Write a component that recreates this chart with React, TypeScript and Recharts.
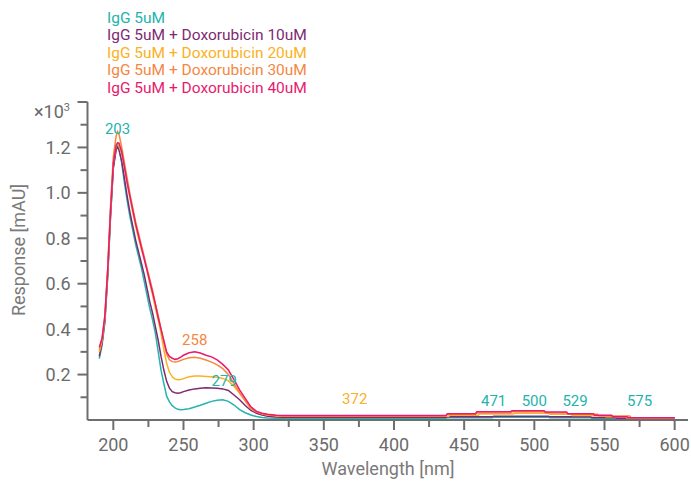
import { Label, Legend, Line, LineChart, ReferenceDot, XAxis, YAxis } from "recharts";

// UV part of the spectrum (shared wavelength grid, nm)
const UV_NM = [
  190, 192, 194, 196, 198, 200, 202, 203, 204, 206, 208, 210, 212, 214, 216, 218, 220, 222, 224, 226, 228, 230,
  232, 234, 236, 238, 240, 242, 244, 246, 248, 250, 254, 258, 262, 266, 270, 274, 278, 282, 286, 290, 294, 298,
  302, 306, 310, 316, 320,
];

// response in mAU x10^3
const IGG_UV = [
  0.27, 0.33, 0.43, 0.63, 0.89, 1.11, 1.19, 1.21, 1.2, 1.13, 1.04, 0.96, 0.89, 0.83, 0.77, 0.72, 0.67, 0.61, 0.55,
  0.49, 0.44, 0.38, 0.3, 0.22, 0.16, 0.105, 0.08, 0.063, 0.053, 0.047, 0.045, 0.046, 0.05, 0.057, 0.065, 0.074,
  0.082, 0.087, 0.089, 0.082, 0.066, 0.046, 0.032, 0.022, 0.015, 0.011, 0.009, 0.008, 0.008,
];
const DOX10_UV = [
  0.28, 0.34, 0.44, 0.64, 0.9, 1.11, 1.19, 1.2, 1.19, 1.14, 1.06, 0.98, 0.91, 0.85, 0.79, 0.74, 0.69, 0.64, 0.58,
  0.52, 0.47, 0.41, 0.35, 0.28, 0.22, 0.17, 0.14, 0.125, 0.12, 0.118, 0.12, 0.125, 0.132, 0.137, 0.14, 0.142,
  0.141, 0.14, 0.137, 0.13, 0.11, 0.089, 0.064, 0.042, 0.03, 0.022, 0.017, 0.013, 0.012,
];
const DOX20_UV = [
  0.3, 0.35, 0.45, 0.66, 0.92, 1.13, 1.21, 1.22, 1.21, 1.17, 1.11, 1.04, 0.97, 0.91, 0.85, 0.8, 0.75, 0.71, 0.66,
  0.6, 0.55, 0.49, 0.44, 0.38, 0.31, 0.25, 0.21, 0.19, 0.18, 0.177, 0.178, 0.182, 0.19, 0.194, 0.194, 0.192, 0.19,
  0.188, 0.183, 0.172, 0.148, 0.118, 0.086, 0.057, 0.038, 0.028, 0.022, 0.019, 0.017,
];
const DOX30_UV = [
  0.31, 0.36, 0.46, 0.67, 0.94, 1.16, 1.25, 1.27, 1.26, 1.2, 1.13, 1.06, 0.99, 0.93, 0.87, 0.82, 0.77, 0.72, 0.67,
  0.62, 0.57, 0.51, 0.46, 0.4, 0.34, 0.29, 0.265, 0.257, 0.255, 0.257, 0.262, 0.267, 0.274, 0.276, 0.272, 0.264,
  0.255, 0.243, 0.226, 0.2, 0.16, 0.12, 0.083, 0.05, 0.035, 0.026, 0.022, 0.02, 0.019,
];
const DOX40_UV = [
  0.32, 0.36, 0.46, 0.66, 0.92, 1.13, 1.21, 1.22, 1.22, 1.18, 1.11, 1.04, 0.98, 0.92, 0.86, 0.81, 0.76, 0.71, 0.66,
  0.61, 0.56, 0.51, 0.45, 0.4, 0.35, 0.3, 0.28, 0.272, 0.267, 0.27, 0.277, 0.285, 0.296, 0.3, 0.295, 0.285, 0.278,
  0.265, 0.245, 0.22, 0.178, 0.133, 0.095, 0.058, 0.038, 0.03, 0.025, 0.021, 0.02,
];

// visible part, stepped baseline
const IGG_VIS_NM = [330, 437, 438, 470, 471, 510, 511, 540, 541, 600];
const IGG_VIS = [0.008, 0.008, 0.01, 0.01, 0.012, 0.012, 0.01, 0.01, 0.008, 0.007];
const DOX10_VIS_NM = [330, 437, 438, 470, 471, 510, 511, 540, 541, 558, 559, 600];
const DOX10_VIS = [0.012, 0.012, 0.014, 0.014, 0.017, 0.017, 0.014, 0.014, 0.011, 0.011, 0.008, 0.008];
const DOX20_VIS_NM = [330, 439, 440, 460, 461, 485, 486, 510, 511, 526, 527, 550, 551, 565, 566, 600];
const DOX20_VIS = [0.016, 0.016, 0.021, 0.021, 0.026, 0.026, 0.03, 0.03, 0.025, 0.025, 0.02, 0.02, 0.014, 0.014, 0.009, 0.009];
const DOX30_VIS_NM = [330, 437, 438, 458, 459, 483, 484, 507, 508, 523, 524, 545, 546, 568, 569, 600];
const DOX30_VIS = [0.018, 0.018, 0.024, 0.024, 0.031, 0.031, 0.036, 0.036, 0.031, 0.031, 0.025, 0.025, 0.018, 0.018, 0.01, 0.01];
const DOX40_VIS_NM = [330, 437, 438, 458, 459, 483, 484, 507, 508, 523, 524, 542, 543, 555, 556, 566, 567, 600];
const DOX40_VIS = [0.02, 0.02, 0.028, 0.028, 0.036, 0.036, 0.041, 0.041, 0.035, 0.035, 0.028, 0.028, 0.021, 0.021, 0.014, 0.014, 0.01, 0.01];

const SERIES_NAMES = [
  "IgG 5uM",
  "IgG 5uM + Doxorubicin 10uM",
  "IgG 5uM + Doxorubicin 20uM",
  "IgG 5uM + Doxorubicin 30uM",
  "IgG 5uM + Doxorubicin 40uM",
];
const COLORS = ["#24b4ac", "#7e2a72", "#fbb124", "#f5873f", "#e81a6e"];

// peak annotations: wavelength, label height (x10^3 mAU), series colour index
const PEAK_NM = [203, 258, 279, 372, 471, 500, 529, 575];
const PEAK_AT = [1.282, 0.352, 0.172, 0.093, 0.085, 0.085, 0.085, 0.085];
const PEAK_COLOR = [0, 3, 0, 2, 0, 0, 0, 0];

const X_TICKS = [200, 225, 250, 275, 300, 325, 350, 375, 400, 425, 450, 475, 500, 525, 550, 575, 600];
const Y_TICKS = [0.1, 0.2, 0.3, 0.4, 0.5, 0.6, 0.7, 0.8, 0.9, 1.0, 1.1, 1.2, 1.3, 1.4];

const AXIS = "#6e6e6e";
const TICK_TEXT = "#6b6b6b";
const TITLE_TEXT = "#7a7a7a";
const FONT = "Roboto, sans-serif";

const toPoints = (nm: number[], v: number[]) => nm.map((x, i) => ({ nm: x, v: v[i] }));

const SERIES_DATA = [
  [...toPoints(UV_NM, IGG_UV), ...toPoints(IGG_VIS_NM, IGG_VIS)],
  [...toPoints(UV_NM, DOX10_UV), ...toPoints(DOX10_VIS_NM, DOX10_VIS)],
  [...toPoints(UV_NM, DOX20_UV), ...toPoints(DOX20_VIS_NM, DOX20_VIS)],
  [...toPoints(UV_NM, DOX30_UV), ...toPoints(DOX30_VIS_NM, DOX30_VIS)],
  [...toPoints(UV_NM, DOX40_UV), ...toPoints(DOX40_VIS_NM, DOX40_VIS)],
];

function NmTick({ x, y, payload }: any) {
  const major = payload.value % 50 === 0;
  return (
    <g>
      <line x1={x} x2={x} y1={y} y2={y + (major ? 10 : 7)} stroke={AXIS} strokeWidth={2} />
      {major && (
        <text x={x} y={y + 31} textAnchor="middle" fill={TICK_TEXT} fontSize={18} fontFamily={FONT}>
          {payload.value}
        </text>
      )}
    </g>
  );
}

function ResponseTick({ x, y, payload }: any) {
  const tenths = Math.round(payload.value * 10);
  const major = tenths % 2 === 0;
  const labelled = major && tenths <= 12;
  return (
    <g>
      <line x1={x - (major ? 10 : 7)} x2={x} y1={y} y2={y} stroke={AXIS} strokeWidth={2} />
      {labelled && (
        <text x={x - 17} y={y + 6.5} textAnchor="end" fill={TICK_TEXT} fontSize={18} fontFamily={FONT}>
          {(tenths / 10).toFixed(1)}
        </text>
      )}
    </g>
  );
}

function LegendBox() {
  return (
    <div style={{ fontFamily: FONT, fontSize: 15.5, lineHeight: "17.4px", whiteSpace: "nowrap" }}>
      {SERIES_NAMES.map((name, i) => (
        <div key={name} style={{ color: COLORS[i] }}>
          {name}
        </div>
      ))}
    </div>
  );
}

export default function App() {
  return (
    <div style={{ width: 691, height: 481 }}>
      <style>{"body{margin:0}"}</style>
      <LineChart width={691} height={481} margin={{ top: 102, right: 3, bottom: 0, left: 0.5 }}>
        <XAxis
          dataKey="nm"
          type="number"
          domain={[181.6, 609.5]}
          ticks={X_TICKS}
          allowDataOverflow
          height={61}
          tickSize={0}
          tickMargin={0}
          tick={<NmTick />}
          axisLine={{ stroke: AXIS, strokeWidth: 2 }}
          interval={0}
        >
          <Label
            content={() => (
              <text x={388} y={475} textAnchor="middle" fill={TITLE_TEXT} fontSize={18} fontFamily={FONT}>
                Wavelength [nm]
              </text>
            )}
          />
        </XAxis>
        <YAxis
          type="number"
          domain={[0, 1.4]}
          ticks={Y_TICKS}
          allowDataOverflow
          width={87}
          tickSize={0}
          tickMargin={0}
          tick={<ResponseTick />}
          axisLine={{ stroke: AXIS, strokeWidth: 2 }}
          interval={0}
        >
          <Label
            content={() => (
              <g>
                <text
                  x={25}
                  y={250}
                  transform="rotate(-90 25 250)"
                  textAnchor="middle"
                  fill={TITLE_TEXT}
                  fontSize={18}
                  fontFamily={FONT}
                >
                  Response [mAU]
                </text>
                <text x={70} y={118} textAnchor="end" fill={TICK_TEXT} fontSize={18} fontFamily={FONT}>
                  ×10
                  <tspan dy={-7} fontSize={11}>
                    3
                  </tspan>
                </text>
              </g>
            )}
          />
        </YAxis>
        <Legend
          layout="vertical"
          align="center"
          verticalAlign="middle"
          content={() => <LegendBox />}
          wrapperStyle={{ top: 10, left: 107, width: 260, height: 90 }}
        />
        {SERIES_DATA.map((data, i) => (
          <Line
            key={SERIES_NAMES[i]}
            data={data}
            dataKey="v"
            name={SERIES_NAMES[i]}
            type="linear"
            stroke={COLORS[i]}
            strokeWidth={1.5}
            dot={false}
            activeDot={false}
            isAnimationActive={false}
          />
        ))}
        {PEAK_NM.map((nm, i) => (
          <ReferenceDot
            key={nm}
            x={nm}
            y={PEAK_AT[i]}
            r={0}
            stroke="none"
            fill="none"
            label={{
              value: String(nm),
              position: "center",
              fill: COLORS[PEAK_COLOR[i]],
              fontSize: 15,
              fontFamily: FONT,
            }}
          />
        ))}
      </LineChart>
    </div>
  );
}
